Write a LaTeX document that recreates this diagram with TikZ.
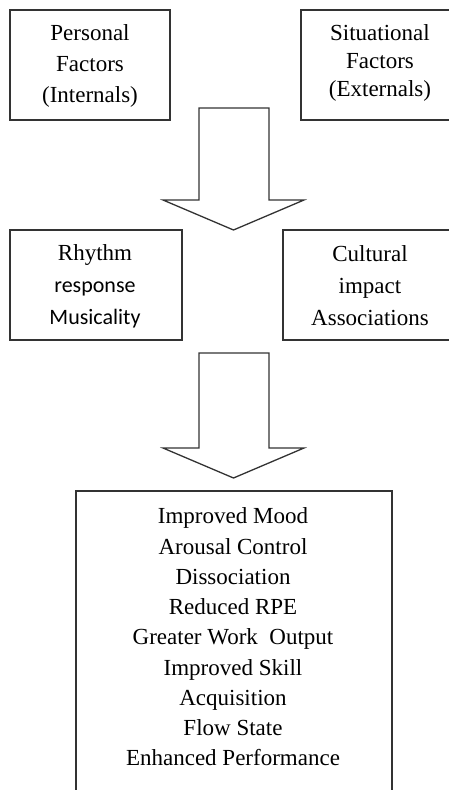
\documentclass[tikz,border=0pt]{standalone}
\usepackage{fontspec}
\setmainfont{Liberation Serif}
\newfontfamily\calibrifont{Carlito}
\begin{document}
\begin{tikzpicture}[x=1pt,y=-1pt,
  boxline/.style={draw=black!80, line width=1.3pt},
  fbox/.style={boxline, rectangle, inner sep=0pt},
  txt/.style={align=center, font=\fontsize{23}{31}\selectfont, inner sep=0pt},
  blockarrow/.style={boxline, fill=white, line join=miter}]
\useasboundingbox (0,0) rectangle (449,790);
\clip (0,0) rectangle (449,790);
% boxes
\node[fbox, minimum width=160pt, minimum height=110pt] (b1) at (90,65) {};
\node[fbox, minimum width=158pt, minimum height=110pt] (b2) at (380,65) {};
\node[fbox, minimum width=172pt, minimum height=110pt] (b3) at (96,285) {};
\node[fbox, minimum width=174pt, minimum height=110pt] (b4) at (370,285) {};
\node[fbox, minimum width=316pt, minimum height=320pt] (b5) at (234,651) {};
% texts
\node[txt] (t1) at (90,65.5) {Personal\\Factors\\(Internals)};
\node[txt, font=\fontsize{23}{28}\selectfont] (t2) at (380,63) {Situational\\Factors\\(Externals)};
\node[txt, font=\fontsize{23}{32}\selectfont] (t3) at (95,286.5) {Rhythm\\{\calibrifont\fontsize{22}{32}\selectfont response}\\{\calibrifont\fontsize{22}{32}\selectfont Musicality}};
\node[txt, font=\fontsize{23}{32}\selectfont] (t4) at (370,285.5) {Cultural\\impact\\Associations};
\node[txt, font=\fontsize{23}{30.25}\selectfont] (t5) at (233,637) {Improved Mood\\Arousal Control\\Dissociation\\Reduced RPE\\Greater Work\ \ Output\\Improved Skill\\Acquisition\\Flow State\\Enhanced Performance};
% block arrows
\draw[blockarrow] (199,108) -- (269,108) -- (269,200) -- (304,200) -- (233.5,230) -- (163,200) -- (199,200) -- cycle;
\draw[blockarrow] (199,353) -- (269,353) -- (269,448) -- (304,448) -- (233.5,478) -- (163,448) -- (199,448) -- cycle;
\end{tikzpicture}
\end{document}
